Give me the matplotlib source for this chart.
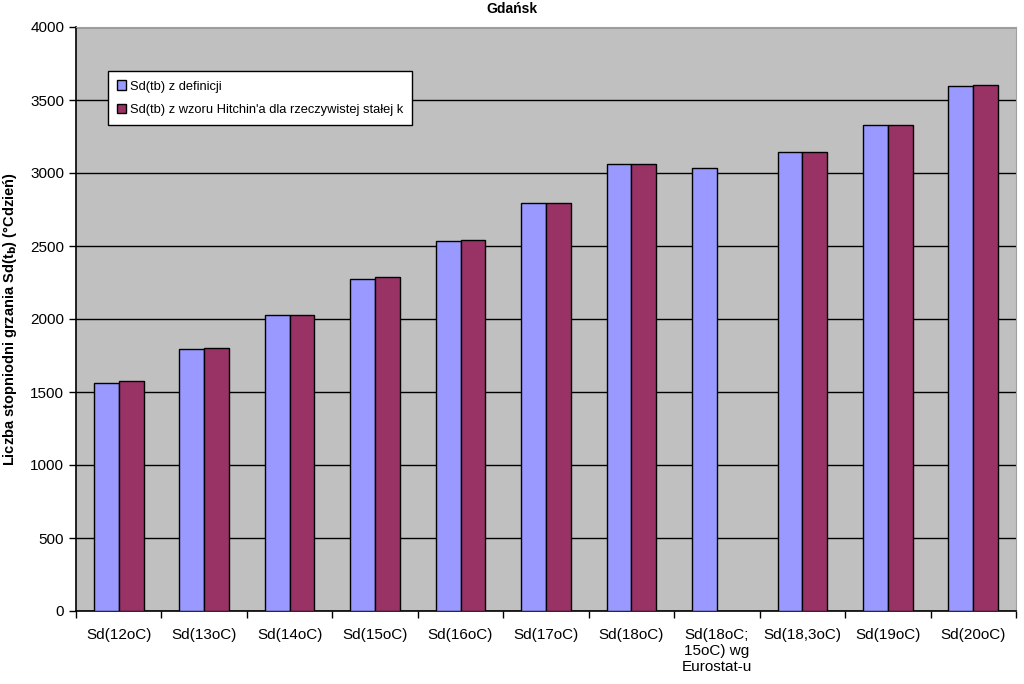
import numpy as np
import matplotlib.pyplot as plt
from matplotlib.ticker import FixedLocator

plt.rcParams['font.family'] = ['Liberation Sans', 'DejaVu Sans']

categories = ["Sd(12oC)", "Sd(13oC)", "Sd(14oC)", "Sd(15oC)", "Sd(16oC)", "Sd(17oC)",
              "Sd(18oC)", "Sd(18oC;\n15oC) wg\nEurostat-u", "Sd(18,3oC)", "Sd(19oC)", "Sd(20oC)"]
sd_definicja = [1565, 1792, 2027, 2272, 2532, 2797, 3062, 3032, 3146, 3329, 3596]
sd_hitchin = [1578, 1804, 2027, 2288, 2541, 2797, 3062, np.nan, 3146, 3329, 3605]

fig = plt.figure(figsize=(10.24, 6.84), dpi=100)
ax = fig.add_axes([76 / 1024, 1 - 611 / 684, 940 / 1024, 584 / 684])
ax.set_facecolor('#C0C0C0')

x = np.arange(len(categories))
w = 0.29
ax.bar(x - w / 2, sd_definicja, w, color='#9999FF', edgecolor='black', linewidth=1,
       label="Sd(tb) z definicji", zorder=3)
ax.bar(x + w / 2, sd_hitchin, w, color='#993366', edgecolor='black', linewidth=1,
       label="Sd(tb) z wzoru Hitchin'a dla rzeczywistej stałej k", zorder=3)

ax.set_xlim(-0.5, len(categories) - 0.5)
ax.set_ylim(0, 4000)
ax.set_yticks(np.arange(0, 4001, 500))
ax.yaxis.grid(True, color='black', linewidth=1, zorder=1)

ax.set_xticks(x)
ax.set_xticklabels(categories, fontsize=11, va='top')
ax.xaxis.set_minor_locator(FixedLocator(np.arange(-0.5, len(categories), 1)))
ax.tick_params(axis='x', which='major', length=0, pad=12)
ax.tick_params(axis='x', which='minor', length=5, width=1, direction='out')
ax.tick_params(axis='y', length=5, width=1, labelsize=11)

for s in ['left', 'bottom']:
    ax.spines[s].set_color('black')
    ax.spines[s].set_linewidth(1.2)
for s in ['top', 'right']:
    ax.spines[s].set_color('#A0A0A0')

ax.set_ylabel(r"Liczba stopniodni grzania Sd(t$_\mathbf{b}$) (°Cdzień)",
              fontsize=10.5, fontweight='bold', labelpad=8)
fig.text(0.5, 1 - 9 / 684, "Gdańsk", ha='center', va='center', fontsize=10, fontweight='bold')

leg = ax.legend(loc='upper left', bbox_to_anchor=(0.027, 0.935), fontsize=9.3,
                frameon=True, fancybox=False, handlelength=0.7, handleheight=0.7,
                handletextpad=0.3, borderpad=0.7, labelspacing=0.9)
leg.get_frame().set_edgecolor('black')
leg.get_frame().set_facecolor('white')
leg.get_frame().set_linewidth(1)
leg.get_frame().set_alpha(1)

fig.savefig('out.png', dpi=100)
